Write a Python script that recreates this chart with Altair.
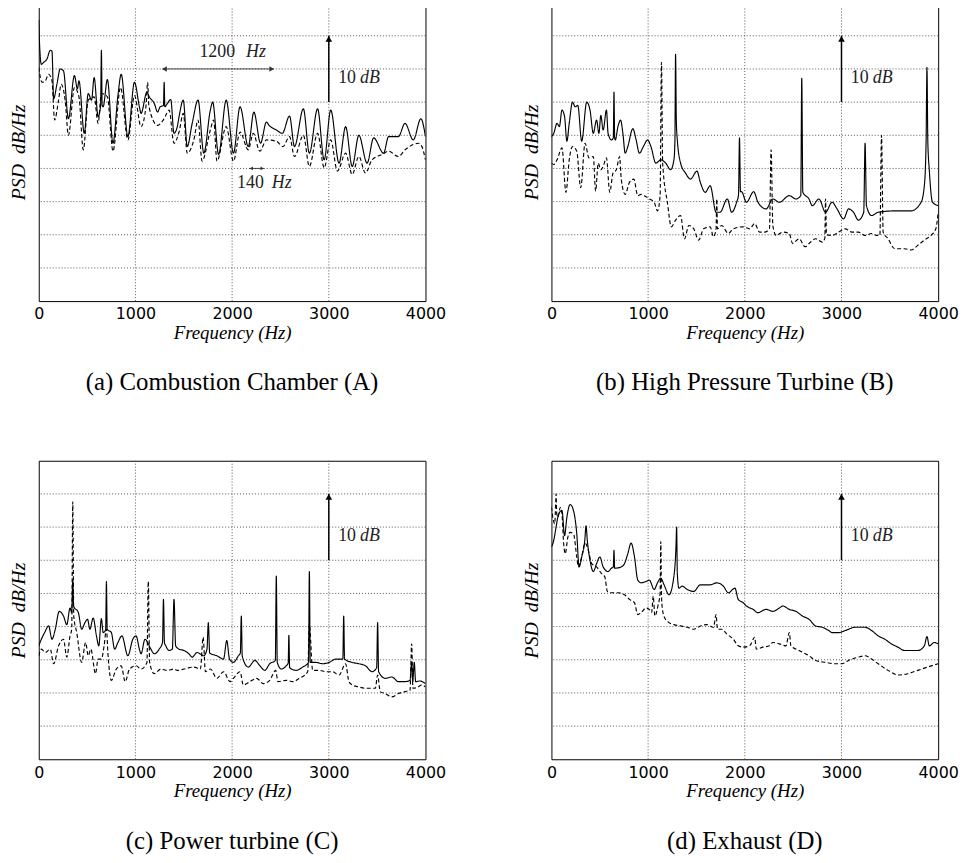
import altair as alt
import pandas as pd

# ---------------- data (frequency in Hz, PSD in relative dB) ----------------
A_SOLID = [(0,42.4),(5,40.0),(27,35.7),(51,36.0),(85,36.5),(119,37.8),(137,37.7),(154,30.5),(188,32.7),(222,35.0),
           (256,34.7),(307,27.5),(369,34.0),(400,32.0),(416,33.2),(471,25.3),(512,31.3),(546,30.3),(573,33.7),(614,27.8),
           (640,29.5),(648,37.8),(656,29.5),(666,29.3),(710,33.4),(768,23.8),(819,31.0),(853,34.2),(922,24.8),(990,33.0),
           (1041,29.3),(1058,28.3),(1119,31.5),(1143,30.8),(1195,29.8),(1229,28.5),(1256,29.3),(1290,29.5),(1297,33.0),
           (1304,29.3),(1331,29.8),(1365,30.4),(1399,25.3),(1433,26.3),(1451,27.8),(1495,30.3),(1536,23.3),(1587,26.8),
           (1648,30.3),(1707,22.3),(1775,28.8),(1799,30.0),(1860,22.1),(1939,30.3),(2014,22.3),(2082,29.3),(2167,23.3),
           (2225,28.5),(2294,23.8),(2355,27.0),(2382,26.5),(2457,25.8),(2519,25.3),(2594,27.9),(2645,23.3),(2737,29.0),
           (2799,22.3),(2884,29.0),(2952,21.3),(3020,28.8),(3106,20.8),(3174,26.3),(3242,20.3),(3311,25.0),(3396,20.8),
           (3464,24.6),(3567,22.3),(3618,24.8),(3720,24.8),(3788,26.8),(3874,24.3),(3952,27.5),(4000,24.8)]
A_DASH = [(0,35.2),(34,33.0),(68,33.2),(102,34.2),(137,33.2),(164,27.3),(205,30.3),(232,32.7),(273,30.3),(307,25.0),
          (369,32.2),(416,30.8),(461,22.8),(512,30.3),(573,30.8),(614,26.8),(648,31.3),(710,30.8),(768,22.6),(846,32.2),
          (922,24.3),(990,31.0),(1058,26.3),(1110,29.5),(1126,33.0),(1140,29.3),(1229,26.5),(1297,27.5),(1348,28.8),
          (1399,23.8),(1451,25.5),(1495,28.3),(1536,22.3),(1604,24.3),(1648,27.3),(1689,21.1),(1775,25.8),(1809,27.3),
          (1843,21.1),(1939,26.3),(2014,21.1),(2082,25.5),(2167,22.8),(2218,25.3),(2287,22.6),(2355,24.3),(2457,24.1),
          (2526,23.3),(2594,24.8),(2645,21.8),(2737,25.0),(2799,20.3),(2884,25.3),(2952,20.1),(3020,24.3),(3089,19.6),
          (3174,22.3),(3242,19.1),(3311,21.8),(3379,19.3),(3447,21.3),(3550,22.1),(3618,22.6),(3720,21.8),(3788,22.8),
          (3874,23.6),(3925,23.8),(3959,23.4),(4000,21.3)]

B_SOLID = [(0,24.8),(24,25.3),(58,26.8),(82,26.3),(109,28.8),(136,27.8),(160,24.1),(184,26.8),(218,30.0),(245,29.3),
           (273,29.5),(313,24.1),(365,30.0),(399,28.8),(433,25.3),(467,27.3),(491,25.3),(511,28.0),(535,25.8),(569,28.8),
           (586,25.3),(620,24.3),(640,24.6),(647,31.5),(654,24.6),(661,24.3),(688,26.3),(715,27.3),(739,25.3),(763,22.3),
           (790,23.3),(842,26.0),(876,24.3),(910,22.3),(951,23.3),(995,24.3),(1029,23.3),(1080,20.8),(1131,21.3),
           (1182,20.8),(1233,19.8),(1267,21.3),(1277,24.0),(1284,37.2),(1292,27.0),(1301,24.5),(1336,20.8),(1387,19.3),
           (1438,18.4),(1506,19.6),(1540,17.9),(1591,16.4),(1642,17.4),(1703,13.4),(1744,13.4),(1819,15.4),(1864,13.4),
           (1915,14.9),(1935,16.0),(1945,24.6),(1955,16.5),(1966,16.5),(2017,14.9),(2092,16.5),(2136,14.9),(2221,13.9),
           (2289,15.4),(2358,14.9),(2460,15.9),(2528,15.4),(2579,15.9),(2589,33.6),(2600,16.4),(2664,15.4),(2698,14.4),
           (2767,15.4),(2835,13.4),(2903,14.9),(2954,13.9),(3022,12.4),(3073,13.9),(3124,13.4),(3175,12.2),(3230,13.4),
           (3244,23.8),(3258,14.4),(3312,12.9),(3380,13.4),(3550,13.6),(3720,13.6),(3823,14.9),(3857,17.4),(3875,24.0),
           (3884,35.2),(3893,24.0),(3908,19.8),(3942,14.9),(4000,14.4)]
B_DASH = [(0,20.8),(24,20.6),(58,21.3),(109,23.1),(150,16.4),(184,21.3),(218,23.3),(262,22.6),(303,17.1),(348,23.8),
          (388,21.6),(433,21.8),(457,16.6),(484,20.8),(511,19.8),(535,20.3),(569,21.6),(603,16.4),(637,19.3),(671,19.8),
          (705,21.8),(722,18.4),(763,16.1),(807,17.9),(852,18.4),(893,15.9),(927,16.1),(961,15.9),(1012,15.4),(1063,14.9),
          (1097,13.6),(1124,15.9),(1138,36.0),(1150,21.0),(1158,19.3),(1199,14.9),(1240,11.2),(1284,12.2),(1336,12.9),
          (1376,9.4),(1421,11.4),(1472,10.9),(1523,9.2),(1574,10.9),(1642,11.2),(1676,9.7),(1703,10.9),(1710,15.4),
          (1717,10.9),(1761,11.4),(1830,10.2),(1881,10.9),(1983,11.2),(2051,10.9),(2102,11.7),(2153,10.4),(2204,10.4),
          (2255,10.9),(2272,22.8),(2290,11.4),(2324,9.9),(2392,10.4),(2460,10.2),(2494,8.7),(2562,9.4),(2623,8.2),
          (2681,8.9),(2732,9.4),(2801,8.9),(2828,9.5),(2835,15.4),(2845,10.0),(2903,9.9),(2971,10.4),(3039,10.9),
          (3107,10.4),(3175,10.4),(3243,9.9),(3312,10.2),(3363,9.9),(3397,9.9),(3414,25.0),(3431,10.4),(3482,9.4),
          (3550,7.9),(3652,7.9),(3720,7.7),(3789,8.4),(3857,9.2),(3925,9.9),(3976,10.9),(4000,13.4)]

C_SOLID = [(0,17.1),(27,18.1),(61,19.1),(102,20.1),(137,18.1),(171,19.6),(212,22.3),(256,21.6),(290,20.3),(324,22.8),
           (341,22.1),(352,27.0),(360,23.1),(410,22.1),(444,19.6),(478,20.6),(505,21.1),(529,19.6),(563,21.3),(597,18.6),
           (621,17.1),(648,21.2),(666,19.1),(692,19.5),(700,26.8),(708,19.6),(751,19.1),(785,16.6),(819,17.6),(860,18.6),
           (922,15.6),(973,18.1),(1007,18.6),(1041,16.6),(1058,15.9),(1099,18.1),(1126,17.6),(1160,16.6),(1195,15.9),
           (1246,16.6),(1280,17.6),(1290,24.1),(1300,17.6),(1314,17.1),(1348,16.4),(1382,16.6),(1399,24.1),(1416,17.1),
           (1451,16.6),(1502,16.4),(1553,15.9),(1587,15.4),(1638,16.1),(1707,15.6),(1740,16.6),(1754,20.6),(1768,16.0),
           (1843,15.6),(1911,15.1),(1945,17.9),(1973,15.1),(2014,14.6),(2065,15.6),(2085,16.0),(2095,21.6),(2105,15.5),
           (2167,13.9),(2236,14.9),(2287,14.1),(2338,13.4),(2389,14.4),(2447,14.9),(2457,27.6),(2467,14.6),(2509,13.6),
           (2560,14.1),(2580,14.5),(2587,18.7),(2595,13.8),(2662,13.4),(2730,13.9),(2790,14.6),(2799,28.3),(2808,14.6),
           (2867,14.6),(2935,14.4),(3003,14.6),(3072,15.1),(3145,15.1),(3154,21.6),(3163,15.1),(3242,14.6),(3311,14.4),
           (3379,14.1),(3447,13.2),(3495,13.8),(3505,20.6),(3515,13.2),(3584,12.2),(3652,12.4),(3720,11.7),(3788,11.7),
           (3840,11.9),(3857,14.6),(3868,11.7),(3884,14.6),(3898,11.7),(3942,11.8),(4000,11.4)]
C_DASH = [(0,15.6),(27,16.6),(68,16.1),(119,16.6),(154,14.4),(205,17.1),(256,18.1),(290,15.4),(324,18.6),(341,19.6),
          (352,38.8),(362,21.6),(393,19.1),(444,14.6),(485,17.6),(512,15.6),(539,16.6),(587,12.9),(614,15.1),(648,15.1),
          (676,17.1),(700,19.6),(717,15.6),(751,11.9),(802,13.6),(853,14.1),(894,11.7),(939,13.6),(1007,14.1),(1058,13.6),
          (1119,14.6),(1133,26.8),(1147,14.6),(1195,12.9),(1263,13.6),(1331,13.4),(1399,13.6),(1433,13.4),(1502,13.6),
          (1604,13.9),(1672,13.6),(1700,18.4),(1724,13.2),(1775,13.6),(1843,12.2),(1911,13.2),(1980,11.7),(2014,12.2),
          (2082,13.2),(2116,11.2),(2184,11.7),(2253,12.2),(2321,11.4),(2389,11.9),(2451,13.4),(2474,11.7),(2560,11.9),
          (2628,11.7),(2696,12.2),(2782,13.2),(2799,20.3),(2833,13.4),(2901,13.4),(2969,13.2),(3038,13.2),(3106,12.7),
          (3174,14.4),(3208,11.7),(3242,11.2),(3311,10.9),(3379,10.7),(3481,10.7),(3505,12.7),(3532,10.2),(3584,9.9),
          (3652,9.4),(3720,9.9),(3788,10.2),(3840,10.4),(3857,17.4),(3870,10.7),(3925,10.9),(3959,11.2),(4000,10.9)]

D_SOLID = [(0,32.0),(24,33.0),(48,35.0),(75,37.0),(109,37.5),(136,33.7),(160,36.5),(194,38.4),(228,37.5),(262,34.0),
           (286,29.0),(313,30.5),(345,33.0),(358,35.2),(371,33.0),(399,30.0),(433,28.3),(467,29.5),(501,30.5),(535,29.0),
           (586,28.3),(620,28.8),(640,29.0),(647,31.5),(654,28.8),(722,29.0),(756,29.5),(790,31.0),(824,32.6),(859,30.5),
           (893,27.0),(927,26.6),(978,26.8),(1012,27.0),(1063,25.6),(1097,26.6),(1131,27.3),(1165,26.3),(1216,24.8),
           (1261,27.0),(1288,32.0),(1295,35.0),(1302,28.0),(1318,25.8),(1353,26.1),(1404,25.6),(1472,25.3),(1540,26.3),
           (1642,26.3),(1710,26.6),(1778,26.1),(1830,25.1),(1898,25.8),(1932,24.1),(1983,23.6),(2017,23.1),(2085,22.6),
           (2136,22.1),(2221,22.6),(2289,22.3),(2358,22.8),(2392,23.1),(2460,22.6),(2528,22.3),(2596,21.6),(2664,21.1),
           (2732,20.1),(2801,19.9),(2869,19.4),(2903,19.1),(2971,19.1),(3039,19.4),(3141,19.9),(3243,19.9),(3312,19.4),
           (3380,18.6),(3448,18.1),(3516,17.4),(3584,16.9),(3652,16.4),(3720,16.4),(3789,16.4),(3857,17.1),(3884,18.5),
           (3908,17.1),(3959,17.6),(4000,17.4)]
D_DASH = [(0,38.0),(14,36.5),(34,35.5),(45,39.0),(48,40.0),(55,37.0),(68,36.5),(92,38.0),(109,37.0),(126,32.6),
          (143,31.0),(170,33.5),(194,34.2),(228,34.0),(262,30.5),(279,29.0),(313,30.5),(348,32.6),(382,31.5),(416,29.5),
          (467,29.0),(518,28.0),(552,27.5),(579,25.3),(620,25.1),(688,25.1),(756,24.8),(807,24.1),(859,23.6),(893,21.8),
          (927,22.1),(978,22.8),(1012,22.6),(1036,22.1),(1053,24.6),(1070,21.6),(1104,23.3),(1124,25.0),(1131,32.8),
          (1138,25.0),(1148,22.6),(1172,21.3),(1216,20.6),(1267,20.3),(1336,20.1),(1404,19.9),(1472,19.6),(1540,20.1),
          (1608,20.3),(1676,19.9),(1703,21.8),(1717,19.6),(1761,19.6),(1813,18.9),(1881,18.1),(1932,17.1),(1983,16.9),
          (2051,17.1),(2102,18.4),(2119,16.6),(2187,16.9),(2255,17.1),(2289,17.6),(2358,17.4),(2426,17.1),(2460,19.1),
          (2477,17.1),(2562,16.4),(2664,15.6),(2732,14.9),(2835,14.6),(2937,14.4),(3005,14.4),(3073,14.9),(3175,15.4),
          (3243,15.6),(3312,15.1),(3380,14.4),(3482,13.4),(3584,12.7),(3686,12.9),(3789,13.4),(3891,13.9),(4000,14.4)]

CAPTIONS = ["(a) Combustion Chamber (A)", "(b) High Pressure Turbine (B)",
            "(c) Power turbine (C)", "(d) Exhaust (D)"]
X_TICKS = [0, 1000, 2000, 3000, 4000]
X_GRID = [1000, 2000, 3000]
Y_GRID = [5, 10, 15, 20, 25, 30, 35, 40]
Y_TITLE = "PSD\u00a0\u00a0dB/Hz"
X_TITLE = "Frequency (Hz)"

# annotations (data coordinates)
ARROW_10DB = {"f": [3000], "y1": [30], "y2": [40]}
LBL_10 = {"f": [3097], "y": [33.6], "t": ["10"]}
LBL_DB = {"f": [3323], "y": [33.6], "t": ["dB"]}
SPAN_1200 = {"f1": [1280], "f2": [2430], "y": [35]}
LBL_1200 = {"f": [2031], "y": [37.6], "t": ["1200"]}
LBL_1200_HZ = {"f": [2144], "y": [37.6], "t": ["Hz"]}
SPAN_140 = {"f1": [2178], "f2": [2331], "y": [20]}
LBL_140 = {"f": [2328], "y": [17.8], "t": ["140"]}
LBL_140_HZ = {"f": [2410], "y": [17.8], "t": ["Hz"]}

SERIF = "Liberation Serif"
SANS = "DejaVu Sans"
W, H = 390, 301

xscale = alt.Scale(domain=[0, 4000], nice=False, zero=False)
yscale = alt.Scale(domain=[0, 45], nice=False, zero=False)

X_AXIS = alt.Axis(values=X_TICKS, title=X_TITLE, labelFlush=False, grid=False,
                  ticks=False, labelPadding=5, titlePadding=2, titleFontSize=19, format="d")
Y_AXIS = alt.Axis(values=[0, 45], labels=False, ticks=False, title=Y_TITLE, grid=False,
                  titlePadding=10, titleFontSize=20)


def X(field):
    return alt.X(f"{field}:Q", scale=xscale, axis=X_AXIS, title=X_TITLE)


def Y(field):
    return alt.Y(f"{field}:Q", scale=yscale, axis=Y_AXIS, title=Y_TITLE)


def txt(d, align, italic):
    return alt.Chart(pd.DataFrame(d)).mark_text(
        align=align, baseline="middle", font=SERIF, fontSize=18,
        fontStyle="italic" if italic else "normal", color="#222"
    ).encode(x=X("f"), y=Y("y"), text="t:N")


def gridlayers():
    gy = alt.Chart(pd.DataFrame({"g": Y_GRID})).mark_rule(
        color="#555", strokeWidth=1, strokeDash=[1, 2]).encode(y=Y("g"))
    gx = alt.Chart(pd.DataFrame({"g": X_GRID})).mark_rule(
        color="#555", strokeWidth=1, strokeDash=[1, 2]).encode(x=X("g"))
    return [gy, gx]


def panel(solid, dashed, caption, extra=False):
    rows = [{"f": f, "db": d, "s": "solid", "i": i} for i, (f, d) in enumerate(solid)]
    rows += [{"f": f, "db": d, "s": "dashed", "i": i} for i, (f, d) in enumerate(dashed)]
    df = pd.DataFrame(rows)
    lines = alt.Chart(df).mark_line(color="black", strokeWidth=1.15, interpolate="monotone", clip=True).encode(
        x=X("f"), y=Y("db"),
        strokeDash=alt.StrokeDash("s:N", scale=alt.Scale(domain=["solid", "dashed"], range=[[1, 0], [4, 2.5]]),
                                  legend=None),
        detail="s:N", order="i:Q")
    adf = pd.DataFrame(ARROW_10DB)
    arrow = alt.Chart(adf).mark_rule(color="black", strokeWidth=1.5).encode(
        x=X("f"), y=Y("y1"), y2="y2:Q")
    head = alt.Chart(adf).mark_point(shape="triangle-up", filled=True, color="black", size=45, opacity=1).encode(
        x=X("f"), y=Y("y2"), yOffset=alt.value(3))
    layers = gridlayers() + [lines, arrow, head, txt(LBL_10, "left", False), txt(LBL_DB, "left", True)]
    if extra:
        for span, size in ((SPAN_1200, 30), (SPAN_140, 14)):
            sdf = pd.DataFrame(span)
            layers.append(alt.Chart(sdf).mark_rule(color="#333", strokeWidth=0.9).encode(
                x=X("f1"), x2="f2:Q", y=Y("y")))
            layers.append(alt.Chart(sdf).mark_point(shape="triangle-left", filled=True, color="#333",
                                                    size=size, opacity=1).encode(
                x=X("f1"), y=Y("y"), xOffset=alt.value(2)))
            layers.append(alt.Chart(sdf).mark_point(shape="triangle-right", filled=True, color="#333",
                                                    size=size, opacity=1).encode(
                x=X("f2"), y=Y("y"), xOffset=alt.value(-2)))
        layers += [txt(LBL_1200, "right", False), txt(LBL_1200_HZ, "left", True),
                   txt(LBL_140, "right", False), txt(LBL_140_HZ, "left", True)]
    return alt.layer(*layers).properties(
        width=W, height=H,
        title=alt.TitleParams(text=caption, orient="bottom", offset=28, font=SERIF, fontSize=25,
                              fontWeight="normal", anchor="middle", color="black"))


pA = panel(A_SOLID, A_DASH, CAPTIONS[0], extra=True)
pB = panel(B_SOLID, B_DASH, CAPTIONS[1])
pC = panel(C_SOLID, C_DASH, CAPTIONS[2])
pD = panel(D_SOLID, D_DASH, CAPTIONS[3])

chart = alt.vconcat(
    alt.hconcat(pA, pB, spacing=75),
    alt.hconcat(pC, pD, spacing=75),
    spacing=64,
).properties(
    padding={"left": 0, "top": -10, "right": 0, "bottom": 0}, background="white"
).configure_view(
    stroke="black", strokeWidth=1
).configure_axis(
    domain=False,
    labelFont=SANS, labelFontSize=16, labelColor="black",
    titleFont=SERIF, titleFontStyle="italic", titleFontWeight="normal", titleColor="black"
)

chart.save("out.html", embed_options={"renderer": "svg", "actions": False})
